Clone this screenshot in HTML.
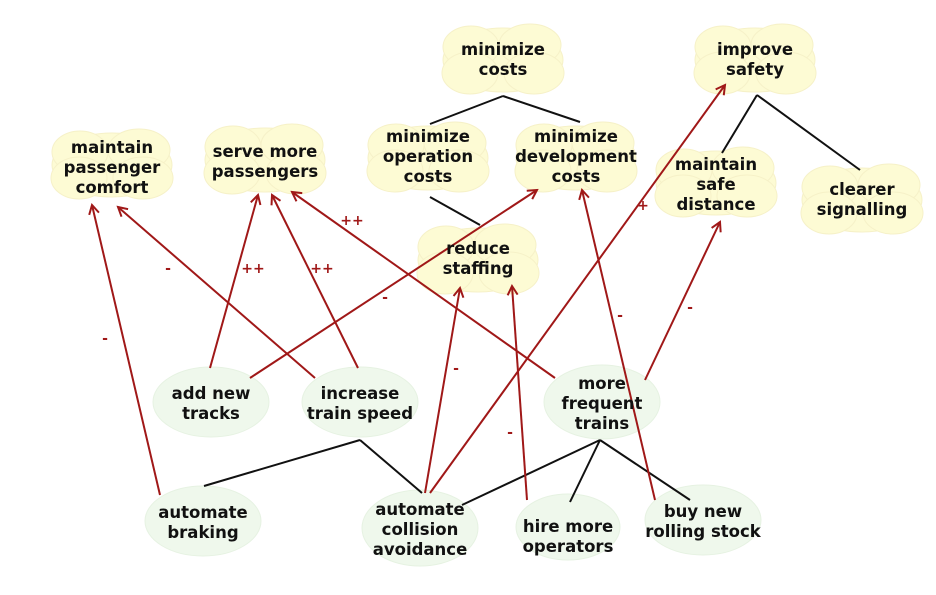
<!DOCTYPE html>
<html><head><style>
body{margin:0;background:#fff}
svg text{font-family:"DejaVu Sans","Liberation Sans",sans-serif;font-weight:bold;font-size:16.5px;fill:#111;text-anchor:middle}
.l{font-size:14px;fill:#a01818}
</style></head><body>
<svg width="936" height="590" xmlns="http://www.w3.org/2000/svg">
<defs>
<marker id="a" markerWidth="12" markerHeight="12" refX="10" refY="6" orient="auto" markerUnits="userSpaceOnUse">
<path d="M1,1 L10,6 L1,11" fill="none" stroke="#a01818" stroke-width="2"/></marker>
<g id="c"><ellipse cx="0" cy="0" rx="60" ry="32"/><ellipse cx="-32" cy="-13" rx="28" ry="21"/><ellipse cx="27" cy="-15" rx="31" ry="21"/><ellipse cx="-33" cy="13" rx="28" ry="21"/><ellipse cx="31" cy="13" rx="30" ry="21"/></g>
</defs>
<g fill="#fdfbd4" stroke="#f6f1c8" stroke-width="1">
<use href="#c" x="503" y="60"/>
<use href="#c" x="755" y="60"/>
<use href="#c" x="112" y="165"/>
<use href="#c" x="265" y="160"/>
<use href="#c" x="428" y="158"/>
<use href="#c" x="576" y="158"/>
<use href="#c" x="716" y="183"/>
<use href="#c" x="862" y="200"/>
<use href="#c" x="478" y="260"/>
</g>
<g fill="#eff8ec" stroke="#e6f2e2">
<ellipse cx="211" cy="402" rx="58" ry="35"/>
<ellipse cx="360" cy="402" rx="58" ry="35"/>
<ellipse cx="602" cy="402" rx="58" ry="37"/>
<ellipse cx="203" cy="521" rx="58" ry="35"/>
<ellipse cx="420" cy="528" rx="58" ry="38"/>
<ellipse cx="568" cy="527" rx="52" ry="33"/>
<ellipse cx="703" cy="520" rx="58" ry="35"/>
</g>
<g stroke="#111" stroke-width="2" fill="none">
<path d="M503,96 L430,124 M503,96 L580,122"/>
<path d="M480,225 L430,197"/>
<path d="M757,95 L722,153 M757,95 L860,170"/>
<path d="M360,440 L204,486 M360,440 L422,493"/>
<path d="M600,440 L462,505 M600,440 L570,502 M600,440 L690,500"/>
</g>
<g stroke="#a01818" stroke-width="2" fill="none" marker-end="url(#a)">
<path d="M160,495 L92,205"/>
<path d="M315,378 L118,207"/>
<path d="M210,368 L258,195"/>
<path d="M358,368 L272,195"/>
<path d="M555,378 L292,192"/>
<path d="M250,378 L537,190"/>
<path d="M425,493 L460,288"/>
<path d="M527,500 L512,286"/>
<path d="M430,493 L725,85"/>
<path d="M655,500 L582,190"/>
<path d="M645,380 L720,222"/>
</g>
<g class="l">
<text class="l" x="105" y="343">-</text>
<text class="l" x="168" y="273">-</text>
<text class="l" x="253" y="273">++</text>
<text class="l" x="322" y="273">++</text>
<text class="l" x="352" y="225">++</text>
<text class="l" x="385" y="302">-</text>
<text class="l" x="456" y="373">-</text>
<text class="l" x="510" y="437">-</text>
<text class="l" x="643" y="210">+</text>
<text class="l" x="620" y="320">-</text>
<text class="l" x="690" y="312">-</text>
</g>
<text x="503" y="55">minimize</text><text x="503" y="75">costs</text>
<text x="755" y="55">improve</text><text x="755" y="75">safety</text>
<text x="112" y="153">maintain</text><text x="112" y="173">passenger</text><text x="112" y="193">comfort</text>
<text x="265" y="157">serve more</text><text x="265" y="177">passengers</text>
<text x="428" y="142">minimize</text><text x="428" y="162">operation</text><text x="428" y="182">costs</text>
<text x="576" y="142">minimize</text><text x="576" y="162">development</text><text x="576" y="182">costs</text>
<text x="716" y="170">maintain</text><text x="716" y="190">safe</text><text x="716" y="210">distance</text>
<text x="862" y="195">clearer</text><text x="862" y="215">signalling</text>
<text x="478" y="254">reduce</text><text x="478" y="274">staffing</text>
<text x="211" y="399">add new</text><text x="211" y="419">tracks</text>
<text x="360" y="399">increase</text><text x="360" y="419">train speed</text>
<text x="602" y="389">more</text><text x="602" y="409">frequent</text><text x="602" y="429">trains</text>
<text x="203" y="518">automate</text><text x="203" y="538">braking</text>
<text x="420" y="515">automate</text><text x="420" y="535">collision</text><text x="420" y="555">avoidance</text>
<text x="568" y="532">hire more</text><text x="568" y="552">operators</text>
<text x="703" y="517">buy new</text><text x="703" y="537">rolling stock</text>
</svg>
</body></html>
